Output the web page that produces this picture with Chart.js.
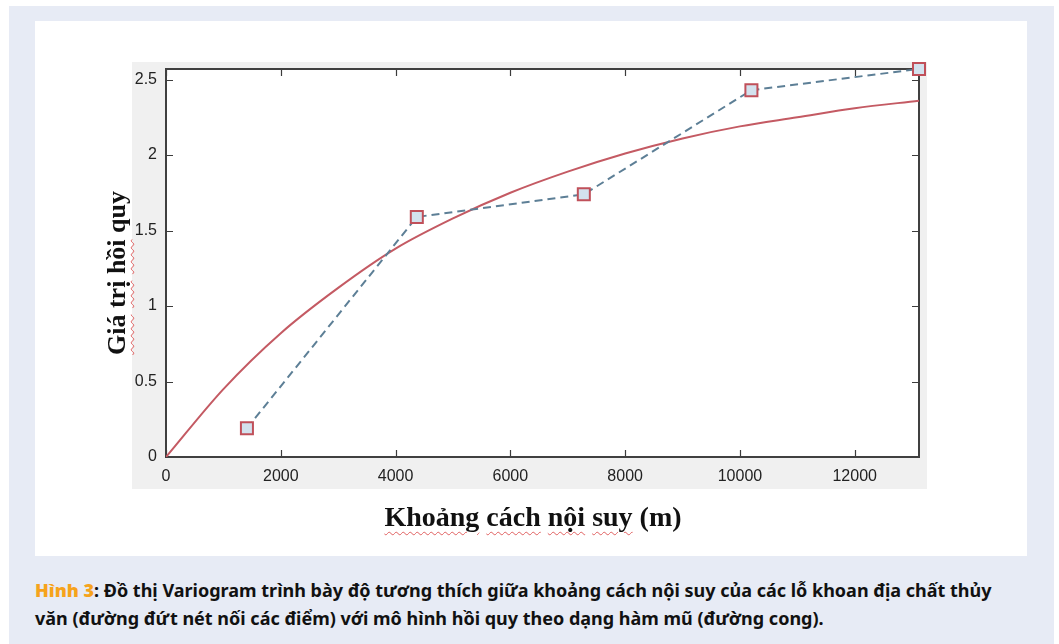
<!DOCTYPE html>
<html>
<head>
<meta charset="utf-8">
<script src="https://cdn.jsdelivr.net/npm/chart.js@4.4.1/dist/chart.umd.min.js"></script>
<style>
html, body { margin: 0; padding: 0; background: #fff; }
body { width: 1059px; height: 644px; position: relative; overflow: hidden; }
#khung { position: absolute; left: 9px; top: 6px; width: 1045px; height: 638px; background: #e7ebf5; }
#nen { position: absolute; left: 35px; top: 21px; width: 992px; height: 535px; background: #fff; }
#xam { position: absolute; left: 132px; top: 62px; width: 795px; height: 427px; background: #f0f0f0; }
#bieudo { position: absolute; left: 0; top: 0; }
.nhan { position: absolute; font-family: "Liberation Serif", "Times New Roman", serif; font-weight: bold; color: #111; white-space: nowrap; text-align: center; line-height: 30px; }
.nhan span { text-decoration: underline wavy #e06060; text-decoration-thickness: 1px; text-underline-offset: 5px; }
#nhanX { left: 333px; top: 502px; width: 400px; font-size: 28px; }
#nhanY { left: -33px; top: 258px; width: 300px; font-size: 26px; transform: rotate(-90deg); }
#chuthich { position: absolute; left: 35px; top: 576px; font-family: "Noto Sans", sans-serif; font-weight: bold; font-size: 18px; line-height: 28px; color: #111; white-space: nowrap; }
#chuthich b { color: #f6a31c; }
</style>
</head>
<body>
<div id="khung"></div>
<div id="nen"></div>
<div id="xam"></div>
<canvas id="bieudo" width="1059" height="560"></canvas>
<div class="nhan" id="nhanY"><span>Giá</span> <span>trị</span> <span>hồi</span> quy</div>
<div class="nhan" id="nhanX"><span>Khoảng</span> <span>cách</span> <span>nội</span> <span>suy</span> (m)</div>
<div id="chuthich"><b>Hình 3</b>: Đồ thị Variogram trình bày độ tương thích giữa khoảng cách nội suy của các lỗ khoan địa chất thủy<br>văn (đường đứt nét nối các điểm) với mô hình hồi quy theo dạng hàm mũ (đường cong).</div>

<script>
// Điểm thực nghiệm (đường đứt nét)
var khoangCach = [1410, 4370, 7280, 10200, 13120];
var giaTri = [0.19, 1.59, 1.74, 2.43, 2.57];

// Mô hình hàm mũ (đường cong)
var khoangCachMoHinh = [0, 1000, 2000, 3000, 4000, 5000, 6000, 7000, 8000, 9000, 10000, 11000, 12000, 13120];
var giaTriMoHinh = [0, 0.45, 0.82, 1.12, 1.38, 1.58, 1.75, 1.89, 2.01, 2.11, 2.19, 2.25, 2.31, 2.36];

// Nhãn trục
var nhanTrucX = [0, 2000, 4000, 6000, 8000, 10000, 12000];
var nhanTrucY = [0, 0.5, 1, 1.5, 2, 2.5];

function ghepDiem(xs, ys) {
    var kq = [];
    for (let i = 0; i < xs.length; i++) {
        kq.push({ x: xs[i], y: ys[i] });
    }
    return kq;
}

// ve nen trang, khung va vach chia huong vao trong (kieu MATLAB)
const khungTruc = {
    id: 'khungTruc',
    beforeDraw(chart) {
        const a = chart.chartArea;
        chart.ctx.save();
        chart.ctx.fillStyle = '#ffffff';
        chart.ctx.fillRect(a.left, a.top, a.right - a.left, a.bottom - a.top);
        chart.ctx.restore();
    },
    beforeDatasetsDraw(chart) {
        const c = chart.ctx;
        const a = chart.chartArea;
        const sx = chart.scales.x;
        const sy = chart.scales.y;
        c.save();
        c.strokeStyle = '#3c3c3c';
        c.lineWidth = 1.2;
        nhanTrucX.forEach(function (v) {
            let px = Math.round(sx.getPixelForValue(v)) + 0.5;
            c.beginPath();
            c.moveTo(px, a.bottom); c.lineTo(px, a.bottom - 7);
            c.moveTo(px, a.top); c.lineTo(px, a.top + 7);
            c.stroke();
        });
        nhanTrucY.forEach(function (v) {
            let py = Math.round(sy.getPixelForValue(v)) + 0.5;
            c.beginPath();
            c.moveTo(a.left, py); c.lineTo(a.left + 7, py);
            c.moveTo(a.right, py); c.lineTo(a.right - 7, py);
            c.stroke();
        });
        c.strokeStyle = '#404040';
        c.lineWidth = 2;
        c.strokeRect(a.left, a.top, a.right - a.left, a.bottom - a.top);
        c.restore();
    }
};

const ctx = document.getElementById('bieudo');

new Chart(ctx, {
    type: 'line',
    data: {
        datasets: [{
            label: 'Mô hình hàm mũ',
            data: ghepDiem(khoangCachMoHinh, giaTriMoHinh),
            borderColor: '#c45a63',
            borderWidth: 2,
            pointRadius: 0,
            cubicInterpolationMode: 'monotone',
            order: 2
        }, {
            label: 'Variogram thực nghiệm',
            data: ghepDiem(khoangCach, giaTri),
            borderColor: '#5d7f96',
            borderWidth: 2,
            borderDash: [8, 5],
            pointStyle: 'rect',
            pointRadius: 8.5,
            pointBorderColor: '#c0505a',
            pointBackgroundColor: '#d3e2ee',
            pointBorderWidth: 2,
            clip: false,
            order: 1
        }]
    },
    options: {
        responsive: false,
        animation: false,
        events: [],
        layout: { padding: { left: 60, top: 69, right: 140, bottom: 0 } },
        plugins: {
            legend: { display: false },
            tooltip: { enabled: false }
        },
        scales: {
            x: {
                type: 'linear',
                min: 0,
                max: 13120,
                afterFit: function (s) { s.height = 103; },
                afterBuildTicks: function (s) { s.ticks = nhanTrucX.map(v => ({ value: v })); },
                ticks: {
                    color: '#222',
                    font: { family: 'Liberation Sans, Arial', size: 16 },
                    padding: 10,
                    maxRotation: 0,
                    callback: v => String(v)
                },
                grid: { display: false, drawTicks: false },
                border: { display: false }
            },
            y: {
                min: 0,
                max: 2.57,
                afterFit: function (s) { s.width = 106; },
                afterBuildTicks: function (s) { s.ticks = nhanTrucY.map(v => ({ value: v })); },
                ticks: {
                    color: '#222',
                    font: { family: 'Liberation Sans, Arial', size: 16 },
                    padding: 9,
                    callback: v => String(v)
                },
                grid: { display: false, drawTicks: false },
                border: { display: false }
            }
        }
    },
    plugins: [khungTruc]
});
</script>
</body>
</html>
